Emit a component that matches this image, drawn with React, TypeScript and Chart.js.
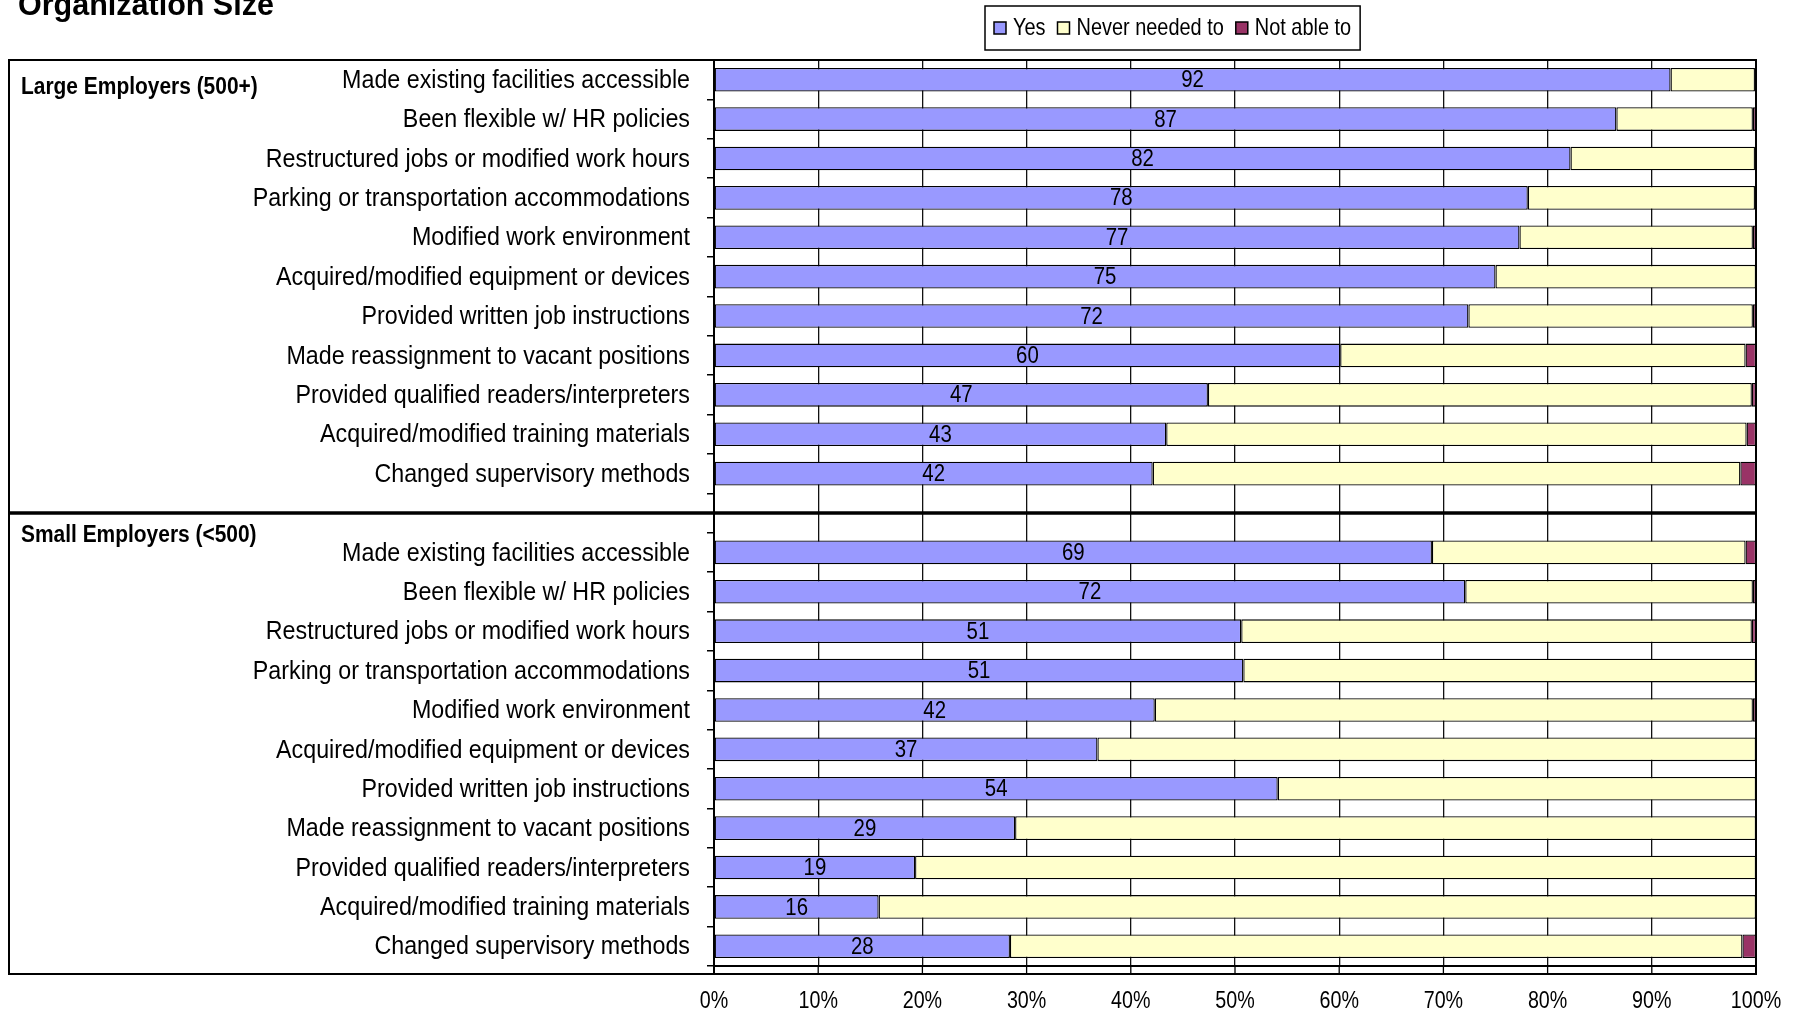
import React, { useEffect, useRef } from "react";
import { Chart, registerables } from "chart.js";

Chart.register(...registerables);

const SANS = "'Liberation Sans', Arial, sans-serif";

const titleText = "Organization Size";
const groupLabels = ["Large Employers (500+)", "Small Employers (<500)"];

const largeCategories = [
  "Made existing facilities accessible",
  "Been flexible w/ HR policies",
  "Restructured jobs or modified work hours",
  "Parking or transportation accommodations",
  "Modified work environment",
  "Acquired/modified equipment or devices",
  "Provided written job instructions",
  "Made reassignment to vacant positions",
  "Provided qualified readers/interpreters",
  "Acquired/modified training materials",
  "Changed supervisory methods",
];
const smallCategories = [
  "Made existing facilities accessible",
  "Been flexible w/ HR policies",
  "Restructured jobs or modified work hours",
  "Parking or transportation accommodations",
  "Modified work environment",
  "Acquired/modified equipment or devices",
  "Provided written job instructions",
  "Made reassignment to vacant positions",
  "Provided qualified readers/interpreters",
  "Acquired/modified training materials",
  "Changed supervisory methods",
];

const seriesNames = ["Yes", "Never needed to", "Not able to"];
const seriesColors = ["#9999FF", "#FFFFCC", "#993366"];

const largeYes = [91.8, 86.6, 82.2, 78.1, 77.3, 75.0, 72.4, 60.1, 47.4, 43.4, 42.1];
const largeNever = [8.1, 13.1, 17.7, 21.8, 22.4, 25.0, 27.3, 38.9, 52.2, 55.7, 56.4];
const largeNotAble = [0.1, 0.3, 0.1, 0.1, 0.3, 0, 0.3, 1.0, 0.4, 0.9, 1.5];

const smallYes = [68.9, 72.1, 50.6, 50.8, 42.3, 36.8, 54.1, 28.9, 19.3, 15.8, 28.4];
const smallNever = [30.1, 27.6, 49.0, 49.2, 57.4, 63.2, 45.9, 71.1, 80.7, 84.2, 70.3];
const smallNotAble = [1.0, 0.3, 0.4, 0, 0.3, 0, 0, 0, 0, 0, 1.3];

const xTickValues = [0, 10, 20, 30, 40, 50, 60, 70, 80, 90, 100];
const xTickLabels = ["0%", "10%", "20%", "30%", "40%", "50%", "60%", "70%", "80%", "90%", "100%"];

const W = 1799;
const H = 1012;
const PLOT_LEFT = 714;
const PLOT_RIGHT = 1756;
const PLOT_TOP = 60;
const CAT_BOTTOM = 966;
const STRIP = 8;

const allLabels = [...largeCategories, "", ...smallCategories];
const join = (a: number[], b: number[]) => [...a, null, ...b];

function drawText(
  ctx: CanvasRenderingContext2D,
  text: string,
  x: number,
  y: number,
  size: number,
  sx: number,
  align: CanvasTextAlign,
  bold = false
) {
  ctx.save();
  ctx.font = `${bold ? "bold " : ""}${size}px ${SANS}`;
  ctx.textAlign = align;
  ctx.textBaseline = "middle";
  ctx.fillStyle = "#000";
  ctx.translate(x, y);
  ctx.scale(sx, 1);
  ctx.fillText(text, 0, 0);
  ctx.restore();
}

function textWidth(ctx: CanvasRenderingContext2D, text: string, size: number, sx: number) {
  ctx.save();
  ctx.font = `${size}px ${SANS}`;
  const w = ctx.measureText(text).width * sx;
  ctx.restore();
  return w;
}

const overlayPlugin = {
  id: "overlay",
  beforeDraw(chart: any) {
    const ctx = chart.ctx;
    ctx.save();
    ctx.fillStyle = "#fff";
    ctx.fillRect(0, 0, chart.width, chart.height);
    ctx.restore();
  },
  afterDatasetsDraw(chart: any) {
    const ctx = chart.ctx;
    const meta = chart.getDatasetMeta(0);
    const data = chart.data.datasets[0].data;
    meta.data.forEach((el: any, i: number) => {
      const v = data[i];
      if (v == null) return;
      drawText(ctx, String(Math.round(v)), (el.x + el.base) / 2, el.y + 1, 24, 0.85, "center");
    });
  },
  afterDraw(chart: any) {
    const ctx = chart.ctx;
    const a = chart.chartArea;
    const x = chart.scales.x;
    const y = chart.scales.y;
    const bottom = a.bottom + STRIP;
    const boxLeft = 9;
    ctx.save();
    ctx.strokeStyle = "#000";
    // extension strip below last category
    ctx.lineWidth = 1.3;
    xTickValues.forEach((v) => {
      const px = x.getPixelForValue(v);
      ctx.beginPath();
      ctx.moveTo(px, a.bottom);
      ctx.lineTo(px, bottom);
      ctx.stroke();
    });
    // plot border
    ctx.lineWidth = 2;
    ctx.strokeRect(a.left, a.top, a.right - a.left, bottom - a.top);
    // left label box
    ctx.strokeRect(boxLeft, a.top, a.left - boxLeft, bottom - a.top);
    // separator between groups
    const sepY = y.getPixelForValue(largeCategories.length);
    ctx.lineWidth = 3.5;
    ctx.beginPath();
    ctx.moveTo(boxLeft, sepY);
    ctx.lineTo(a.right, sepY);
    ctx.stroke();
    ctx.restore();

    // category labels
    allLabels.forEach((lab, i) => {
      if (!lab) return;
      drawText(ctx, lab, a.left - 24, y.getPixelForValue(i) + 1, 26, 0.895, "right");
    });
    // x tick labels
    xTickValues.forEach((v, i) => {
      drawText(ctx, xTickLabels[i], x.getPixelForValue(v), bottom + 27, 24, 0.82, "center");
    });
    // group labels
    drawText(ctx, groupLabels[0], 21, y.getPixelForValue(0) + 8, 23, 0.91, "left", true);
    drawText(ctx, groupLabels[1], 21, sepY + 23, 23, 0.91, "left", true);

    // title (partially cut off at top)
    ctx.save();
    ctx.fillStyle = "#000";
    ctx.font = `bold 30.5px ${SANS}`;
    ctx.textAlign = "left";
    ctx.textBaseline = "alphabetic";
    ctx.fillText(titleText, 18, 15);
    ctx.restore();

    // legend
    const cy = 28;
    const sq = 12;
    const boxL = 985;
    let lx = boxL + 9;
    ctx.save();
    ctx.strokeStyle = "#000";
    ctx.lineWidth = 1.5;
    seriesNames.forEach((name, i) => {
      ctx.fillStyle = seriesColors[i];
      ctx.fillRect(lx, cy - sq / 2, sq, sq);
      ctx.strokeRect(lx, cy - sq / 2, sq, sq);
      lx += sq + 7;
      drawText(ctx, name, lx, cy, 24, 0.83, "left");
      lx += textWidth(ctx, name, 24, 0.83) + 12;
    });
    ctx.lineWidth = 1.5;
    ctx.strokeRect(boxL, 6, lx - 3 - boxL, 44);
    ctx.restore();
  },
};

export default function App() {
  const ref = useRef<HTMLCanvasElement | null>(null);
  useEffect(() => {
    if (!ref.current) return;
    const yesData = join(largeYes, smallYes);
    const neverData = join(largeNever, smallNever);
    const notAbleData = join(largeNotAble, smallNotAble);
    const datasets = [yesData, neverData, notAbleData].map((d, i) => ({
      label: seriesNames[i],
      data: d,
      backgroundColor: seriesColors[i],
      borderColor: "#000",
      borderWidth: 1.3,
      borderSkipped: false,
      barPercentage: 0.6,
      categoryPercentage: 1,
    }));
    const chart = new Chart(ref.current, {
      type: "bar",
      data: { labels: allLabels, datasets: datasets as any },
      options: {
        indexAxis: "y",
        animation: false,
        responsive: false,
        layout: { padding: { top: PLOT_TOP, right: W - PLOT_RIGHT, bottom: 0, left: 0 } },
        plugins: {
          legend: { display: false },
          title: { display: false },
          tooltip: { enabled: false },
        },
        scales: {
          x: {
            stacked: true,
            min: 0,
            max: 100,
            afterFit: (s: any) => {
              s.height = H - CAT_BOTTOM;
            },
            afterBuildTicks: (s: any) => {
              s.ticks = xTickValues.map((v) => ({ value: v }));
            },
            ticks: { display: false },
            grid: { color: "#111", lineWidth: 1.3, drawTicks: false },
            border: { display: true, color: "#000", width: 2 },
          },
          y: {
            stacked: true,
            afterFit: (s: any) => {
              s.width = PLOT_LEFT;
            },
            ticks: { display: false, autoSkip: false },
            grid: {
              offset: true,
              drawOnChartArea: false,
              drawTicks: true,
              tickLength: 7,
              color: "#000",
              lineWidth: 1.5,
            },
            border: { display: true, color: "#000", width: 2 },
          },
        },
      },
      plugins: [overlayPlugin],
    });
    return () => chart.destroy();
  }, []);
  return (
    <div style={{ position: "fixed", left: 0, top: 0, width: W, height: H, background: "#fff" }}>
      <canvas ref={ref} width={W} height={H} style={{ display: "block", width: W, height: H }} />
    </div>
  );
}
